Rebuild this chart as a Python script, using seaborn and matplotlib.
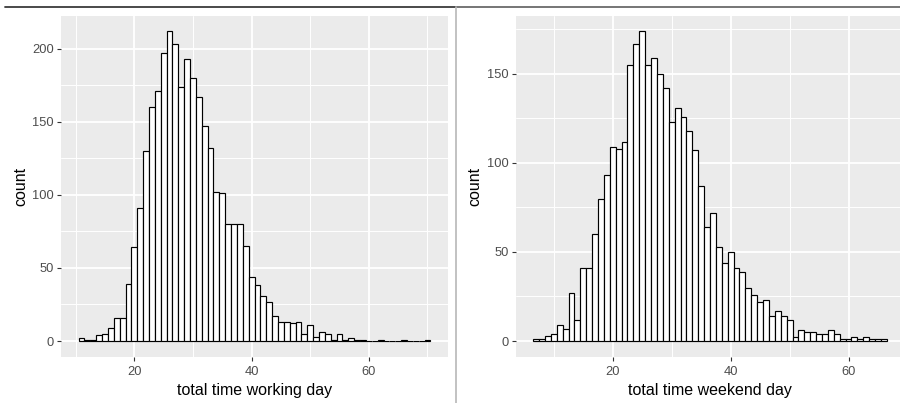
import numpy as np
import pandas as pd
import matplotlib
matplotlib.use("Agg")
import matplotlib.pyplot as plt
from matplotlib.lines import Line2D
from matplotlib.ticker import MultipleLocator
import seaborn as sns

# bin centres (binwidth 1) and counts
work_bins = list(range(11, 71))
work_counts = [2, 1, 1, 4, 5, 9, 16, 16, 39, 64,
               91, 130, 160, 171, 197, 212, 203, 174, 193, 180,
               167, 147, 132, 102, 101, 80, 80, 80, 65, 44,
               38, 31, 27, 17, 13, 13, 12, 13, 5, 11,
               3, 6, 5, 1, 5, 1, 2, 1, 1, 0,
               0, 1, 0, 0, 0, 1, 0, 0, 0, 1]

weekend_bins = list(range(7, 67))
weekend_counts = [1, 1, 3, 4, 9, 7, 27, 12, 41, 41,
                  60, 80, 93, 109, 108, 112, 155, 167, 174, 155,
                  159, 150, 142, 123, 131, 126, 118, 107, 87, 64,
                  72, 53, 44, 50, 41, 39, 30, 26, 22, 23,
                  14, 17, 14, 12, 2, 6, 5, 5, 4, 4,
                  6, 4, 1, 1, 2, 1, 2, 1, 1, 1]

x_labels = ["total time working day", "total time weekend day"]

sns.set_style("darkgrid", {"axes.facecolor": "#EBEBEB", "grid.color": "white"})
plt.rcParams['font.family'] = ['Liberation Sans', 'DejaVu Sans']

W, H = 900, 403
fig = plt.figure(figsize=(W / 100, H / 100), dpi=100)
fig.patch.set_facecolor("white")

# panel boxes in pixels: left, top, width, height
boxes = [(61, 15.7, 387, 340.8), (515.5, 15.7, 389, 340.8)]
datasets = [(work_bins, work_counts), (weekend_bins, weekend_counts)]

for (px, py, pw, ph), (bins, counts), xlab in zip(boxes, datasets, x_labels):
    ax = fig.add_axes([px / W, (H - py - ph) / H, pw / W, ph / H])
    df = pd.DataFrame({"time": bins, "n": counts})
    sns.histplot(data=df, x="time", weights="n", discrete=True, ax=ax,
                 color="white", edgecolor="black", linewidth=0.85, alpha=1)

    # ggplot style 5% expansion of the data range
    lo, hi = min(bins) - 0.5, max(bins) + 0.5
    ax.set_xlim(lo - 0.05 * (hi - lo), hi + 0.05 * (hi - lo))
    top = max(counts)
    ax.set_ylim(-0.05 * top, top * 1.05)

    ax.xaxis.set_major_locator(MultipleLocator(20))
    ax.xaxis.set_minor_locator(MultipleLocator(10))
    ax.yaxis.set_major_locator(MultipleLocator(50))
    ax.yaxis.set_minor_locator(MultipleLocator(25))
    ax.grid(which="major", color="white", linewidth=1.3)
    ax.grid(which="minor", color="white", linewidth=0.7)
    ax.set_axisbelow(True)
    for s in ax.spines.values():
        s.set_visible(False)
    ax.tick_params(which="major", length=2.9, width=0.8, color="#333333",
                   labelsize=9.3, labelcolor="#4D4D4D", pad=2.2,
                   bottom=True, left=True)
    ax.tick_params(axis="x", which="major", pad=4.2)
    ax.tick_params(which="minor", length=0)
    ax.set_xlabel(xlab, fontsize=11.5, color="black", labelpad=3.5)
    ax.set_ylabel("count", fontsize=11.5, color="black", labelpad=3)

# screenshot frame lines
fig.add_artist(Line2D([5 / W, 456 / W], [1 - 7.3 / H, 1 - 7.3 / H],
                      transform=fig.transFigure, color="#3a3a3a", linewidth=1.3))
fig.add_artist(Line2D([456 / W, 1], [1 - 6.7 / H, 1 - 6.7 / H],
                      transform=fig.transFigure, color="#6a6a6a", linewidth=1.3))
fig.add_artist(Line2D([456 / W, 456 / W], [0, 1 - 7 / H],
                      transform=fig.transFigure, color="#b8b8b8", linewidth=1.2))

fig.savefig("out.png", dpi=100)
